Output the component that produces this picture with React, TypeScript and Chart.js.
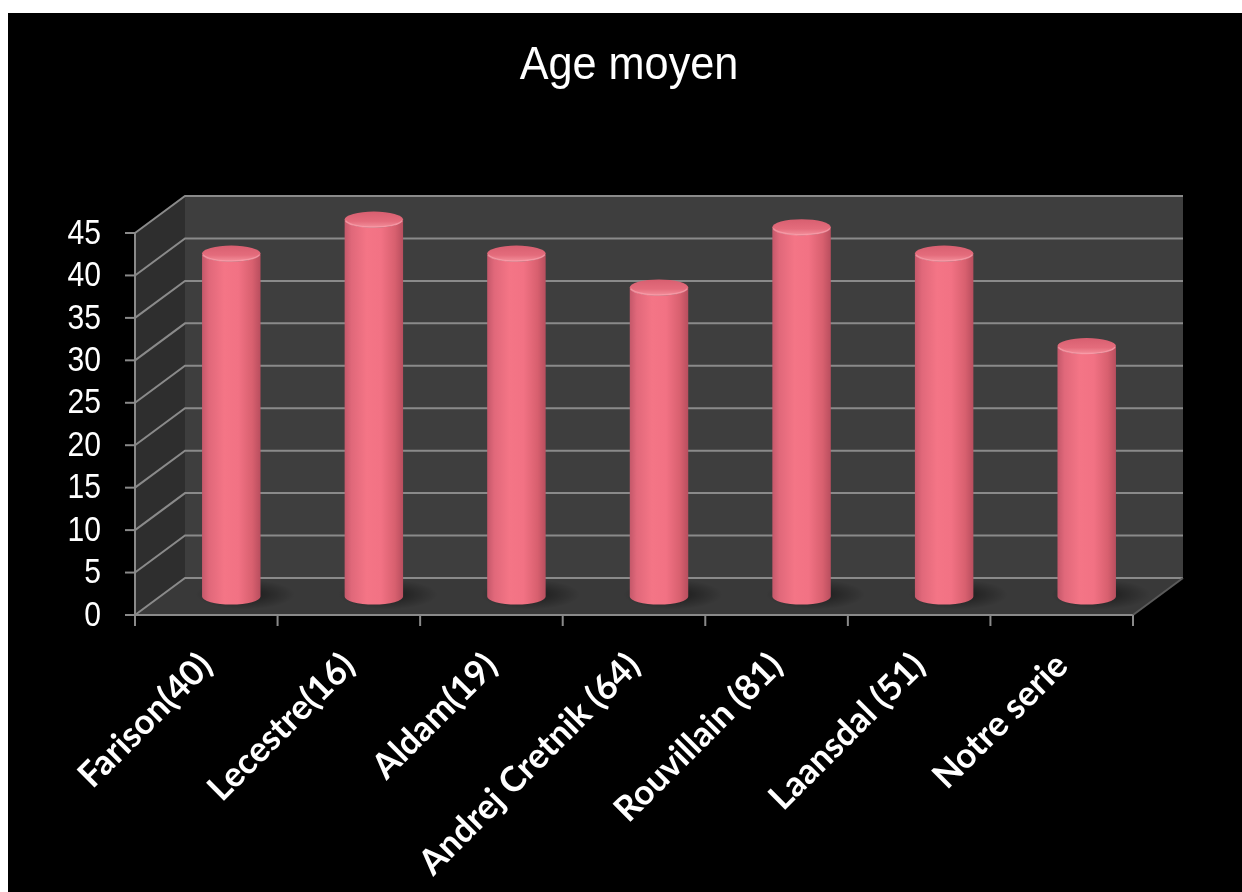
import React, { useEffect, useRef } from "react";
import { Chart, registerables } from "chart.js";

Chart.register(...registerables);

// Mean age per series
const categories = [
  "Farison(40)",
  "Lecestre(16)",
  "Aldam(19)",
  "Andrej Cretnik (64)",
  "Rouvillain (81)",
  "Laansdal (51)",
  "Notre serie",
];
const ageMoyen = [40.4, 44.4, 40.4, 36.4, 43.5, 40.4, 29.5];
const yTickValues = [0, 5, 10, 15, 20, 25, 30, 35, 40, 45];
const chartTitle = "Age moyen";

// Oblique projection of the 3-D box: offset from the front plane to the back wall
const DEPTH_X = 50;
const DEPTH_Y = -37;

const WALL_BACK = "#3e3e3e";
const WALL_LEFT = "#2e2e2e";
const FLOOR = "#393939";
const GRID = "#8a8a8a";

const box3d = {
  id: "box3d",
  beforeDraw(chart: any) {
    const { ctx, width, height } = chart;
    ctx.save();
    ctx.fillStyle = "#000";
    ctx.fillRect(0, 0, width, height);
    ctx.restore();
  },
  beforeDatasetsDraw(chart: any) {
    const { ctx, chartArea: a, scales } = chart;
    const x = scales.x;
    const y = scales.y;
    const y0 = y.getPixelForValue(yTickValues[0]);
    const yTop = y.getPixelForValue(yTickValues[yTickValues.length - 1]);
    const L = a.left;
    const R = a.right;
    ctx.save();

    // left wall
    ctx.fillStyle = WALL_LEFT;
    ctx.beginPath();
    ctx.moveTo(L, yTop);
    ctx.lineTo(L + DEPTH_X, yTop + DEPTH_Y);
    ctx.lineTo(L + DEPTH_X, y0 + DEPTH_Y);
    ctx.lineTo(L, y0);
    ctx.closePath();
    ctx.fill();

    // back wall
    ctx.fillStyle = WALL_BACK;
    ctx.fillRect(L + DEPTH_X, yTop + DEPTH_Y, R - L, y0 - yTop);

    // floor
    ctx.fillStyle = FLOOR;
    ctx.beginPath();
    ctx.moveTo(L, y0);
    ctx.lineTo(R, y0);
    ctx.lineTo(R + DEPTH_X, y0 + DEPTH_Y);
    ctx.lineTo(L + DEPTH_X, y0 + DEPTH_Y);
    ctx.closePath();
    ctx.fill();

    // gridlines across the left wall and the back wall
    ctx.strokeStyle = GRID;
    ctx.lineWidth = 2;
    for (const v of yTickValues) {
      const py = y.getPixelForValue(v);
      ctx.beginPath();
      ctx.moveTo(L, py);
      ctx.lineTo(L + DEPTH_X, py + DEPTH_Y);
      ctx.lineTo(R + DEPTH_X, py + DEPTH_Y);
      ctx.stroke();
    }

    // front edges of the box
    ctx.beginPath();
    ctx.moveTo(L, yTop);
    ctx.lineTo(L, y0);
    ctx.lineTo(R, y0);
    ctx.stroke();
    ctx.strokeStyle = "#5a5a5a";
    ctx.beginPath();
    ctx.moveTo(R, y0);
    ctx.lineTo(R + DEPTH_X, y0 + DEPTH_Y);
    ctx.stroke();

    // tick marks
    ctx.strokeStyle = GRID;
    for (const v of yTickValues) {
      const py = y.getPixelForValue(v);
      ctx.beginPath();
      ctx.moveTo(L - 10, py);
      ctx.lineTo(L, py);
      ctx.stroke();
    }
    const half = (x.getPixelForValue(1) - x.getPixelForValue(0)) / 2;
    for (let i = 0; i <= categories.length; i++) {
      const px = x.getPixelForValue(0) - half + i * half * 2;
      ctx.beginPath();
      ctx.moveTo(px, y0);
      ctx.lineTo(px, y0 + 11);
      ctx.stroke();
    }

    // soft shadows on the floor behind each cylinder
    const meta = chart.getDatasetMeta(0);
    for (const bar of meta.data) {
      const cx = bar.x + DEPTH_X / 2 + 14;
      const cy = bar.base + DEPTH_Y / 2 - 2;
      const g = ctx.createRadialGradient(cx, cy, 0, cx, cy, bar.width * 0.85);
      g.addColorStop(0, "rgba(0,0,0,0.55)");
      g.addColorStop(1, "rgba(0,0,0,0)");
      ctx.save();
      ctx.translate(cx, cy);
      ctx.scale(1, 0.3);
      ctx.translate(-cx, -cy);
      ctx.fillStyle = g;
      ctx.beginPath();
      ctx.arc(cx, cy, bar.width * 0.85, 0, Math.PI * 2);
      ctx.fill();
      ctx.restore();
    }

    ctx.restore();
  },
  afterDatasetsDraw(chart: any) {
    const { ctx } = chart;
    const meta = chart.getDatasetMeta(0);
    ctx.save();
    for (const bar of meta.data) {
      const rx = bar.width / 2;
      const ry = 8;
      const cx = bar.x + DEPTH_X / 2;
      const top = bar.y + DEPTH_Y / 2;
      const base = bar.base + DEPTH_Y / 2;

      // body
      const body = ctx.createLinearGradient(cx - rx, 0, cx + rx, 0);
      body.addColorStop(0, "#c4586a");
      body.addColorStop(0.12, "#e0687a");
      body.addColorStop(0.38, "#f47586");
      body.addColorStop(0.62, "#f27284");
      body.addColorStop(0.86, "#d8606f");
      body.addColorStop(1, "#b84e5e");
      ctx.fillStyle = body;
      ctx.beginPath();
      ctx.moveTo(cx - rx, top);
      ctx.lineTo(cx - rx, base);
      ctx.ellipse(cx, base, rx, ry, 0, Math.PI, 0, true);
      ctx.lineTo(cx + rx, top);
      ctx.ellipse(cx, top, rx, ry, 0, 0, Math.PI, false);
      ctx.closePath();
      ctx.fill();

      // top cap
      const cap = ctx.createLinearGradient(0, top - ry, 0, top + ry);
      cap.addColorStop(0, "#d85f70");
      cap.addColorStop(0.6, "#e46c7c");
      cap.addColorStop(1, "#f4909c");
      ctx.fillStyle = cap;
      ctx.beginPath();
      ctx.ellipse(cx, top, rx, ry, 0, 0, Math.PI * 2);
      ctx.fill();
      ctx.strokeStyle = "rgba(250,160,172,0.7)";
      ctx.lineWidth = 1.5;
      ctx.beginPath();
      ctx.ellipse(cx, top, rx - 0.5, ry - 0.5, 0, 0.15, Math.PI - 0.15, false);
      ctx.stroke();
    }
    ctx.restore();
  },
  afterDraw(chart: any) {
    const { ctx, scales, width } = chart;
    const y = scales.y;
    ctx.save();
    ctx.fillStyle = "#fff";

    // title
    ctx.font = '47px "Liberation Sans", Arial, sans-serif';
    ctx.textAlign = "center";
    ctx.textBaseline = "alphabetic";
    ctx.save();
    ctx.translate(width / 2 + 4, 66);
    ctx.scale(0.92, 1);
    ctx.fillText(chartTitle, 0, 0);
    ctx.restore();

    // value axis labels
    ctx.font = '35px "Liberation Sans", Arial, sans-serif';
    ctx.textAlign = "right";
    ctx.textBaseline = "middle";
    for (const v of yTickValues) {
      const py = y.getPixelForValue(v);
      ctx.save();
      ctx.translate(y.left + 93, py + 1);
      ctx.scale(0.86, 1);
      ctx.fillText(String(v), 0, 0);
      ctx.restore();
    }
    ctx.restore();
  },
};

export default function App() {
  const canvasRef = useRef<HTMLCanvasElement | null>(null);

  useEffect(() => {
    const canvas = canvasRef.current;
    if (!canvas) return;
    const chart = new Chart(canvas, {
      type: "bar",
      data: {
        labels: categories,
        datasets: [
          {
            label: chartTitle,
            data: ageMoyen,
            backgroundColor: "rgba(0,0,0,0)",
            borderWidth: 0,
            categoryPercentage: 1,
            barPercentage: 0.41,
          },
        ],
      },
      options: {
        responsive: false,
        animation: false,
        devicePixelRatio: 1,
        layout: { padding: { top: 220, right: 109, left: 0, bottom: 0 } },
        plugins: {
          legend: { display: false },
          title: { display: false },
          tooltip: { enabled: false },
        },
        scales: {
          x: {
            grid: { display: false, drawTicks: false },
            border: { display: false },
            ticks: {
              color: "#ffffff",
              font: { family: "Lato, 'Open Sans', sans-serif", weight: "bold", size: 35 },
              minRotation: 45,
              maxRotation: 45,
              autoSkip: false,
              padding: 30,
            },
            afterFit: (s: any) => {
              s.height = 277;
            },
          },
          y: {
            min: 0,
            max: 45,
            grid: { display: false, drawTicks: false },
            border: { display: false },
            ticks: { display: false, stepSize: 5 },
            afterFit: (s: any) => {
              s.width = 127;
            },
          },
        },
      },
      plugins: [box3d],
    });
    return () => chart.destroy();
  }, []);

  return (
    <div
      style={{
        position: "absolute",
        left: 8,
        top: 13,
        width: 1234,
        height: 879,
        background: "#000",
      }}
    >
      <canvas ref={canvasRef} width={1234} height={879} style={{ display: "block" }} />
    </div>
  );
}
